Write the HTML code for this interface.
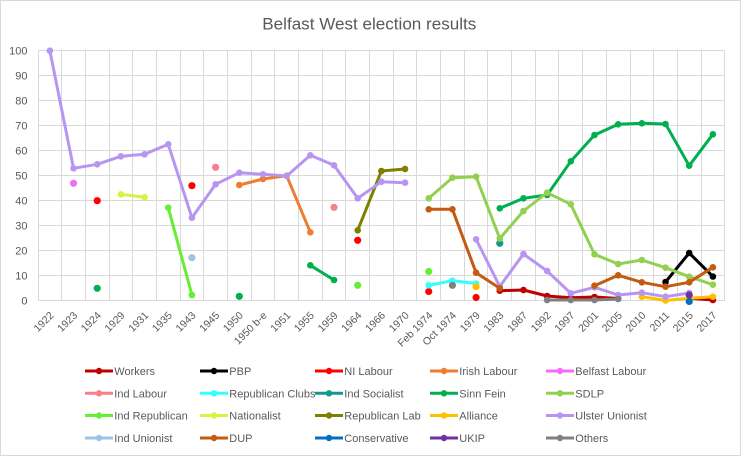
<!DOCTYPE html>
<html><head><meta charset="utf-8"><style>
html,body{margin:0;padding:0;background:#fff;}
svg{display:block;font-family:"Liberation Sans",Arial,sans-serif;}
</style></head><body>
<svg width="741" height="456" viewBox="0 0 741 456" xmlns="http://www.w3.org/2000/svg">
<rect x="0" y="0" width="741" height="456" fill="#fff"/>
<rect x="0.5" y="0.5" width="740" height="455" fill="none" stroke="#d9d9d9"/>
<text x="262.3" y="29.5" font-size="17" fill="#595959" textLength="214" lengthAdjust="spacingAndGlyphs">Belfast West election results</text>
<g stroke="#d9d9d9" stroke-width="1">
<path d="M38.5 50.5H724.5M38.5 75.5H724.5M38.5 100.5H724.5M38.5 125.5H724.5M38.5 150.5H724.5M38.5 175.5H724.5M38.5 200.5H724.5M38.5 225.5H724.5M38.5 250.5H724.5M38.5 275.5H724.5M38.5 300.5H724.5"/>
<path d="M38.5 50.5V300.5M61.5 50.5V300.5M85.5 50.5V300.5M109.5 50.5V300.5M132.5 50.5V300.5M156.5 50.5V300.5M180.5 50.5V300.5M203.5 50.5V300.5M227.5 50.5V300.5M251.5 50.5V300.5M274.5 50.5V300.5M298.5 50.5V300.5M322.5 50.5V300.5M345.5 50.5V300.5M369.5 50.5V300.5M393.5 50.5V300.5M416.5 50.5V300.5M440.5 50.5V300.5M464.5 50.5V300.5M487.5 50.5V300.5M511.5 50.5V300.5M535.5 50.5V300.5M558.5 50.5V300.5M582.5 50.5V300.5M606.5 50.5V300.5M630.5 50.5V300.5M653.5 50.5V300.5M677.5 50.5V300.5M701.5 50.5V300.5M724.5 50.5V300.5"/>
</g>
<g font-size="11" fill="#595959" text-anchor="end">
<text x="27.5" y="54.5">100</text><text x="27.5" y="79.5">90</text><text x="27.5" y="104.5">80</text><text x="27.5" y="129.5">70</text><text x="27.5" y="154.5">60</text><text x="27.5" y="179.5">50</text><text x="27.5" y="204.5">40</text><text x="27.5" y="229.5">30</text><text x="27.5" y="254.5">20</text><text x="27.5" y="279.5">10</text><text x="27.5" y="304.5">0</text>
</g>
<g font-size="10.5" fill="#595959" text-anchor="end">
<text transform="translate(54.4,316) rotate(-45)">1922</text>
<text transform="translate(78.0,316) rotate(-45)">1923</text>
<text transform="translate(101.7,316) rotate(-45)">1924</text>
<text transform="translate(125.4,316) rotate(-45)">1929</text>
<text transform="translate(149.1,316) rotate(-45)">1931</text>
<text transform="translate(172.8,316) rotate(-45)">1935</text>
<text transform="translate(196.4,316) rotate(-45)">1943</text>
<text transform="translate(220.1,316) rotate(-45)">1945</text>
<text transform="translate(243.8,316) rotate(-45)">1950</text>
<text transform="translate(267.5,316) rotate(-45)">1950 b-e</text>
<text transform="translate(291.2,316) rotate(-45)">1951</text>
<text transform="translate(314.8,316) rotate(-45)">1955</text>
<text transform="translate(338.5,316) rotate(-45)">1959</text>
<text transform="translate(362.2,316) rotate(-45)">1964</text>
<text transform="translate(385.9,316) rotate(-45)">1966</text>
<text transform="translate(409.6,316) rotate(-45)">1970</text>
<text transform="translate(433.2,316) rotate(-45)">Feb 1974</text>
<text transform="translate(456.9,316) rotate(-45)">Oct 1974</text>
<text transform="translate(480.6,316) rotate(-45)">1979</text>
<text transform="translate(504.3,316) rotate(-45)">1983</text>
<text transform="translate(528.0,316) rotate(-45)">1987</text>
<text transform="translate(551.6,316) rotate(-45)">1992</text>
<text transform="translate(575.3,316) rotate(-45)">1997</text>
<text transform="translate(599.0,316) rotate(-45)">2001</text>
<text transform="translate(622.7,316) rotate(-45)">2005</text>
<text transform="translate(646.4,316) rotate(-45)">2010</text>
<text transform="translate(670.0,316) rotate(-45)">2011</text>
<text transform="translate(693.7,316) rotate(-45)">2015</text>
<text transform="translate(717.4,316) rotate(-45)">2017</text>
</g>
<g fill="none" stroke-width="3" stroke-linejoin="round" stroke-linecap="round">
<!-- Workers -->
<g stroke="#c00000" fill="#c00000">
<polyline fill="none" points="499.77,290.7 523.45,290 547.13,296 570.81,297.7 594.49,297 618.17,298.5"/>
<polyline fill="none" points="689.21,298.3 712.89,300"/>
<circle cx="499.77" cy="290.7" r="3.3" stroke="none"/><circle cx="523.45" cy="290" r="3.3" stroke="none"/><circle cx="547.13" cy="296" r="3.3" stroke="none"/><circle cx="570.81" cy="297.7" r="3.3" stroke="none"/><circle cx="594.49" cy="297" r="3.3" stroke="none"/><circle cx="618.17" cy="298.5" r="3.3" stroke="none"/><circle cx="689.21" cy="298.3" r="3.3" stroke="none"/><circle cx="712.89" cy="300" r="3.3" stroke="none"/>
</g>
<!-- PBP -->
<g stroke="#000" fill="#000">
<polyline fill="none" points="665.53,282 689.21,253 712.89,276.5"/>
<circle cx="665.53" cy="282" r="3.3" stroke="none"/><circle cx="689.21" cy="253" r="3.3" stroke="none"/><circle cx="712.89" cy="276.5" r="3.3" stroke="none"/>
</g>
<!-- NI Labour -->
<g fill="#ff0000" stroke="none">
<circle cx="97.21" cy="200.7" r="3.6"/><circle cx="191.93" cy="185.7" r="3.6"/><circle cx="357.69" cy="240.3" r="3.6"/><circle cx="428.73" cy="291.5" r="3.6"/><circle cx="476.09" cy="297.5" r="3.6"/>
</g>
<!-- Irish Labour -->
<g stroke="#ed7d31" fill="#ed7d31">
<polyline fill="none" points="239.29,185 262.97,179 286.65,175.7 310.33,232.3"/>
<circle cx="239.29" cy="185" r="3.3" stroke="none"/><circle cx="262.97" cy="179" r="3.3" stroke="none"/><circle cx="286.65" cy="175.7" r="3.3" stroke="none"/><circle cx="310.33" cy="232.3" r="3.3" stroke="none"/>
</g>
<!-- Belfast Labour -->
<circle cx="73.53" cy="183.3" r="3.6" fill="#f36cf3" stroke="none"/>
<!-- Ind Labour -->
<g fill="#f6808a" stroke="none"><circle cx="215.61" cy="167.3" r="3.6"/><circle cx="334.01" cy="207.3" r="3.6"/></g>
<!-- Republican Clubs -->
<g stroke="#33ffff" fill="#33ffff">
<polyline fill="none" points="428.73,285.3 452.41,280.7 476.09,283.5"/>
<circle cx="428.73" cy="285.3" r="3.3" stroke="none"/><circle cx="452.41" cy="280.7" r="3.3" stroke="none"/><circle cx="476.09" cy="283.5" r="3.3" stroke="none"/>
</g>
<!-- Ind Socialist -->
<circle cx="499.77" cy="243.3" r="3.6" fill="#12998c" stroke="none"/>
<!-- Sinn Fein -->
<g stroke="#00b050" fill="#00b050">
<polyline fill="none" points="310.33,265.3 334.01,280"/>
<polyline fill="none" points="499.77,208.3 523.45,198.3 547.13,195 570.81,161.3 594.49,135 618.17,124.3 641.85,123.3 665.53,124 689.21,165.7 712.89,134.3"/>
<circle cx="97.21" cy="288.3" r="3.6" stroke="none"/><circle cx="239.29" cy="296.3" r="3.6" stroke="none"/>
<circle cx="310.33" cy="265.3" r="3.3" stroke="none"/><circle cx="334.01" cy="280" r="3.3" stroke="none"/>
<circle cx="499.77" cy="208.3" r="3.3" stroke="none"/><circle cx="523.45" cy="198.3" r="3.3" stroke="none"/><circle cx="547.13" cy="195" r="3.3" stroke="none"/><circle cx="570.81" cy="161.3" r="3.3" stroke="none"/><circle cx="594.49" cy="135" r="3.3" stroke="none"/><circle cx="618.17" cy="124.3" r="3.3" stroke="none"/><circle cx="641.85" cy="123.3" r="3.3" stroke="none"/><circle cx="665.53" cy="124" r="3.3" stroke="none"/><circle cx="689.21" cy="165.7" r="3.3" stroke="none"/><circle cx="712.89" cy="134.3" r="3.3" stroke="none"/>
</g>
<!-- SDLP -->
<g stroke="#92d050" fill="#92d050">
<polyline fill="none" points="428.73,198.3 452.41,177.7 476.09,176.7 499.77,238.5 523.45,211 547.13,192.7 570.81,204.3 594.49,254.3 618.17,264 641.85,260 665.53,267.7 689.21,276.7 712.89,284.7"/>
<circle cx="428.73" cy="198.3" r="3.3" stroke="none"/><circle cx="452.41" cy="177.7" r="3.3" stroke="none"/><circle cx="476.09" cy="176.7" r="3.3" stroke="none"/><circle cx="499.77" cy="238.5" r="3.3" stroke="none"/><circle cx="523.45" cy="211" r="3.3" stroke="none"/><circle cx="547.13" cy="192.7" r="3.3" stroke="none"/><circle cx="570.81" cy="204.3" r="3.3" stroke="none"/><circle cx="594.49" cy="254.3" r="3.3" stroke="none"/><circle cx="618.17" cy="264" r="3.3" stroke="none"/><circle cx="641.85" cy="260" r="3.3" stroke="none"/><circle cx="665.53" cy="267.7" r="3.3" stroke="none"/><circle cx="689.21" cy="276.7" r="3.3" stroke="none"/><circle cx="712.89" cy="284.7" r="3.3" stroke="none"/>
</g>
<!-- Ind Republican -->
<g stroke="#66ee33" fill="#66ee33">
<polyline fill="none" points="168.25,207.7 191.93,295"/>
<circle cx="168.25" cy="207.7" r="3.3" stroke="none"/><circle cx="191.93" cy="295" r="3.3" stroke="none"/>
<circle cx="357.69" cy="285.3" r="3.6" stroke="none"/><circle cx="428.73" cy="271.5" r="3.6" stroke="none"/>
</g>
<!-- Nationalist -->
<g stroke="#d4f542" fill="#d4f542">
<polyline fill="none" points="120.89,194.3 144.57,197.3"/>
<circle cx="120.89" cy="194.3" r="3.3" stroke="none"/><circle cx="144.57" cy="197.3" r="3.3" stroke="none"/>
</g>
<!-- Republican Lab -->
<g stroke="#808000" fill="#808000">
<polyline fill="none" points="357.69,230.3 381.37,171 405.05,169"/>
<circle cx="357.69" cy="230.3" r="3.3" stroke="none"/><circle cx="381.37" cy="171" r="3.3" stroke="none"/><circle cx="405.05" cy="169" r="3.3" stroke="none"/>
</g>
<!-- Alliance -->
<g stroke="#ffc000" fill="#ffc000">
<circle cx="476.09" cy="286.7" r="3.6" stroke="none"/>
<polyline fill="none" points="641.85,296.7 665.53,300.5 689.21,298.3 712.89,296.7"/>
<circle cx="641.85" cy="296.7" r="3.3" stroke="none"/><circle cx="665.53" cy="300.5" r="3.3" stroke="none"/><circle cx="689.21" cy="298.3" r="3.3" stroke="none"/><circle cx="712.89" cy="296.7" r="3.3" stroke="none"/>
</g>
<!-- Ulster Unionist -->
<g stroke="#b895f2" fill="#b895f2">
<polyline fill="none" points="49.85,50.7 73.53,168.3 97.21,164.3 120.89,156.3 144.57,154.3 168.25,144.3 191.93,217.7 215.61,184.3 239.29,172.7 262.97,174.3 286.65,176 310.33,155.3 334.01,165.3 357.69,198.3 381.37,181.7 405.05,182.7"/>
<polyline fill="none" points="476.09,239.3 499.77,286.5 523.45,254 547.13,271 570.81,293.3 594.49,287.3 618.17,295 641.85,292.7 665.53,296.7 689.21,293"/>
<circle cx="49.85" cy="50.7" r="3.3" stroke="none"/><circle cx="73.53" cy="168.3" r="3.3" stroke="none"/><circle cx="97.21" cy="164.3" r="3.3" stroke="none"/><circle cx="120.89" cy="156.3" r="3.3" stroke="none"/><circle cx="144.57" cy="154.3" r="3.3" stroke="none"/><circle cx="168.25" cy="144.3" r="3.3" stroke="none"/><circle cx="191.93" cy="217.7" r="3.3" stroke="none"/><circle cx="215.61" cy="184.3" r="3.3" stroke="none"/><circle cx="239.29" cy="172.7" r="3.3" stroke="none"/><circle cx="262.97" cy="174.3" r="3.3" stroke="none"/><circle cx="286.65" cy="176" r="3.3" stroke="none"/><circle cx="310.33" cy="155.3" r="3.3" stroke="none"/><circle cx="334.01" cy="165.3" r="3.3" stroke="none"/><circle cx="357.69" cy="198.3" r="3.3" stroke="none"/><circle cx="381.37" cy="181.7" r="3.3" stroke="none"/><circle cx="405.05" cy="182.7" r="3.3" stroke="none"/>
<circle cx="476.09" cy="239.3" r="3.3" stroke="none"/><circle cx="499.77" cy="286.5" r="3.3" stroke="none"/><circle cx="523.45" cy="254" r="3.3" stroke="none"/><circle cx="547.13" cy="271" r="3.3" stroke="none"/><circle cx="570.81" cy="293.3" r="3.3" stroke="none"/><circle cx="594.49" cy="287.3" r="3.3" stroke="none"/><circle cx="618.17" cy="295" r="3.3" stroke="none"/><circle cx="641.85" cy="292.7" r="3.3" stroke="none"/><circle cx="665.53" cy="296.7" r="3.3" stroke="none"/><circle cx="689.21" cy="293" r="3.3" stroke="none"/>
</g>
<!-- Ind Unionist -->
<circle cx="191.93" cy="257.7" r="3.6" fill="#9dc3e6" stroke="none"/>
<!-- DUP -->
<g stroke="#c55a11" fill="#c55a11">
<polyline fill="none" points="428.73,209.3 452.41,209.3 476.09,272.7 499.77,288.3"/>
<polyline fill="none" points="594.49,285.7 618.17,275.3 641.85,282.3 665.53,286.7 689.21,282.3 712.89,267.3"/>
<circle cx="428.73" cy="209.3" r="3.3" stroke="none"/><circle cx="452.41" cy="209.3" r="3.3" stroke="none"/><circle cx="476.09" cy="272.7" r="3.3" stroke="none"/><circle cx="499.77" cy="288.3" r="3.3" stroke="none"/>
<circle cx="594.49" cy="285.7" r="3.3" stroke="none"/><circle cx="618.17" cy="275.3" r="3.3" stroke="none"/><circle cx="641.85" cy="282.3" r="3.3" stroke="none"/><circle cx="665.53" cy="286.7" r="3.3" stroke="none"/><circle cx="689.21" cy="282.3" r="3.3" stroke="none"/><circle cx="712.89" cy="267.3" r="3.3" stroke="none"/>
</g>
<!-- Conservative -->
<circle cx="689.21" cy="301.5" r="3.6" fill="#0070c0" stroke="none"/>
<!-- UKIP -->
<circle cx="689.21" cy="295" r="3.6" fill="#7030a0" stroke="none"/>
<!-- Others -->
<g stroke="#808080" fill="#808080">
<circle cx="452.41" cy="285.3" r="3.6" stroke="none"/>
<polyline fill="none" points="547.13,300 570.81,300 594.49,300 618.17,299"/>
<circle cx="547.13" cy="300" r="3.3" stroke="none"/><circle cx="570.81" cy="300" r="3.3" stroke="none"/><circle cx="594.49" cy="300" r="3.3" stroke="none"/><circle cx="618.17" cy="299" r="3.3" stroke="none"/>
</g>
</g>
<!-- Legend -->
<g stroke-width="3">
<g transform="translate(85,371)"><line x1="0" y1="0" x2="28" y2="0" stroke="#c00000"/><circle cx="14" cy="0" r="3.2" fill="#c00000"/></g>
<g transform="translate(200,371)"><line x1="0" y1="0" x2="28" y2="0" stroke="#000"/><circle cx="14" cy="0" r="3.2" fill="#000"/></g>
<g transform="translate(315,371)"><line x1="0" y1="0" x2="28" y2="0" stroke="#ff0000"/><circle cx="14" cy="0" r="3.2" fill="#ff0000"/></g>
<g transform="translate(430,371)"><line x1="0" y1="0" x2="28" y2="0" stroke="#ed7d31"/><circle cx="14" cy="0" r="3.2" fill="#ed7d31"/></g>
<g transform="translate(546,371)"><line x1="0" y1="0" x2="28" y2="0" stroke="#f36cf3"/><circle cx="14" cy="0" r="3.2" fill="#f36cf3"/></g>

<g transform="translate(85,393.3)"><line x1="0" y1="0" x2="28" y2="0" stroke="#f6808a"/><circle cx="14" cy="0" r="3.2" fill="#f6808a"/></g>
<g transform="translate(200,393.3)"><line x1="0" y1="0" x2="28" y2="0" stroke="#33ffff"/><circle cx="14" cy="0" r="3.2" fill="#33ffff"/></g>
<g transform="translate(315,393.3)"><line x1="0" y1="0" x2="28" y2="0" stroke="#12998c"/><circle cx="14" cy="0" r="3.2" fill="#12998c"/></g>
<g transform="translate(430,393.3)"><line x1="0" y1="0" x2="28" y2="0" stroke="#00b050"/><circle cx="14" cy="0" r="3.2" fill="#00b050"/></g>
<g transform="translate(546,393.3)"><line x1="0" y1="0" x2="28" y2="0" stroke="#92d050"/><circle cx="14" cy="0" r="3.2" fill="#92d050"/></g>

<g transform="translate(85,415.5)"><line x1="0" y1="0" x2="28" y2="0" stroke="#66ee33"/><circle cx="14" cy="0" r="3.2" fill="#66ee33"/></g>
<g transform="translate(200,415.5)"><line x1="0" y1="0" x2="28" y2="0" stroke="#d4f542"/><circle cx="14" cy="0" r="3.2" fill="#d4f542"/></g>
<g transform="translate(315,415.5)"><line x1="0" y1="0" x2="28" y2="0" stroke="#808000"/><circle cx="14" cy="0" r="3.2" fill="#808000"/></g>
<g transform="translate(430,415.5)"><line x1="0" y1="0" x2="28" y2="0" stroke="#ffc000"/><circle cx="14" cy="0" r="3.2" fill="#ffc000"/></g>
<g transform="translate(546,415.5)"><line x1="0" y1="0" x2="28" y2="0" stroke="#b895f2"/><circle cx="14" cy="0" r="3.2" fill="#b895f2"/></g>

<g transform="translate(85,438)"><line x1="0" y1="0" x2="28" y2="0" stroke="#9dc3e6"/><circle cx="14" cy="0" r="3.2" fill="#9dc3e6"/></g>
<g transform="translate(200,438)"><line x1="0" y1="0" x2="28" y2="0" stroke="#c55a11"/><circle cx="14" cy="0" r="3.2" fill="#c55a11"/></g>
<g transform="translate(315,438)"><line x1="0" y1="0" x2="28" y2="0" stroke="#0070c0"/><circle cx="14" cy="0" r="3.2" fill="#0070c0"/></g>
<g transform="translate(430,438)"><line x1="0" y1="0" x2="28" y2="0" stroke="#7030a0"/><circle cx="14" cy="0" r="3.2" fill="#7030a0"/></g>
<g transform="translate(546,438)"><line x1="0" y1="0" x2="28" y2="0" stroke="#808080"/><circle cx="14" cy="0" r="3.2" fill="#808080"/></g>
</g>
<g font-size="11" fill="#595959">
<text x="114.3" y="375">Workers</text><text x="229.3" y="375">PBP</text><text x="344.3" y="375">NI Labour</text><text x="459.3" y="375">Irish Labour</text><text x="575.3" y="375">Belfast Labour</text>
<text x="114.3" y="397.3">Ind Labour</text><text x="229.3" y="397.3">Republican Clubs</text><text x="344.3" y="397.3">Ind Socialist</text><text x="459.3" y="397.3">Sinn Fein</text><text x="575.3" y="397.3">SDLP</text>
<text x="114.3" y="419.5">Ind Republican</text><text x="229.3" y="419.5">Nationalist</text><text x="344.3" y="419.5">Republican Lab</text><text x="459.3" y="419.5">Alliance</text><text x="575.3" y="419.5">Ulster Unionist</text>
<text x="114.3" y="442">Ind Unionist</text><text x="229.3" y="442">DUP</text><text x="344.3" y="442">Conservative</text><text x="459.3" y="442">UKIP</text><text x="575.3" y="442">Others</text>
</g>
</svg>
</body></html>
